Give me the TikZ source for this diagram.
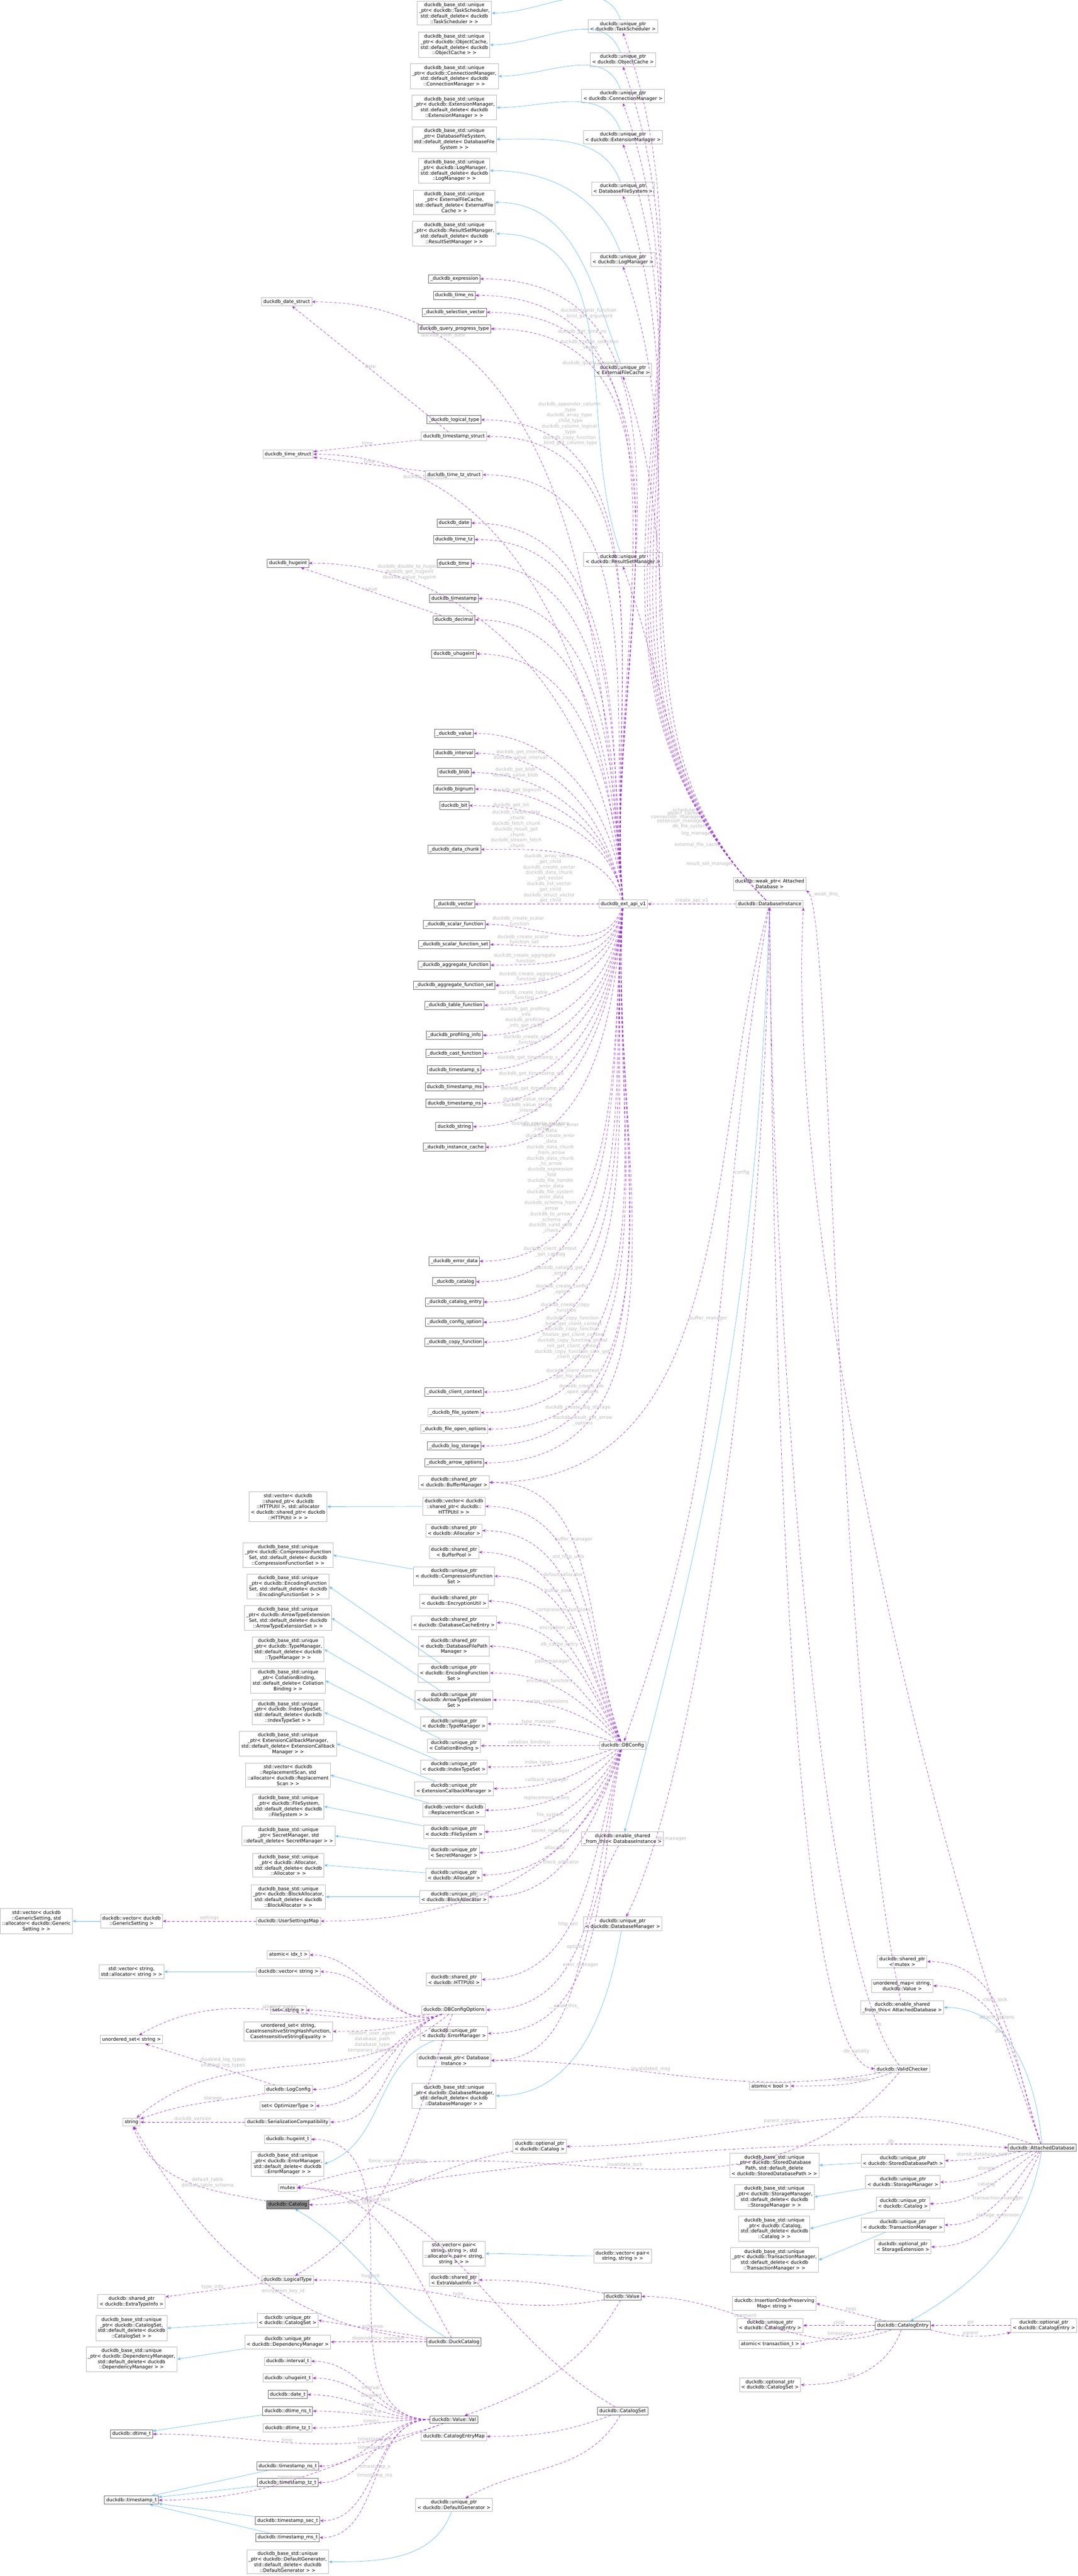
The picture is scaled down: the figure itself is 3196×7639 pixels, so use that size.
\documentclass[tikz,border=0pt]{standalone}
\usepackage{fontspec}
\setmainfont{DejaVu Sans}
\usetikzlibrary{arrows.meta}
\definecolor{edgepurple}{HTML}{9A32CD}
\definecolor{edgeblue}{HTML}{63B8FF}
\tikzset{
	cls/.style={draw=black!28, rectangle, inner sep=1.5pt, align=center, fill=white, font=\fontsize{4}{4.7}\selectfont},
	capi/.style={cls, draw=black!60},
	focus/.style={cls, draw=black!70, fill=black!45},
	mem/.style={edgepurple, line width=0.3pt, dash pattern=on 2.2pt off 1.6pt, -{Stealth[length=3pt,width=2.4pt]}},
	inh/.style={edgeblue, line width=0.3pt, -{Stealth[length=3pt,width=2.4pt]}},
	lbl/.style={font=\fontsize{4}{4.7}\selectfont, text=black!28, align=center, inner sep=0.6pt}
}
\begin{document}
\begin{tikzpicture}[x=0.01cm, y=-0.01cm]
\useasboundingbox (0,0) rectangle (3196,7639);

%% base classes of the instance members
\node[cls] (bsTask) at (1347,39) {duckdb\_base\_std::unique\\\_ptr< duckdb::TaskScheduler,\\ std::default\_delete< duckdb\\::TaskScheduler > >};
\node[cls] (bsObj) at (1347,133) {duckdb\_base\_std::unique\\\_ptr< duckdb::ObjectCache,\\ std::default\_delete< duckdb\\::ObjectCache > >};
\node[cls] (bsConn) at (1347,226) {duckdb\_base\_std::unique\\\_ptr< duckdb::ConnectionManager,\\ std::default\_delete< duckdb\\::ConnectionManager > >};
\node[cls] (bsExtm) at (1347,319) {duckdb\_base\_std::unique\\\_ptr< duckdb::ExtensionManager,\\ std::default\_delete< duckdb\\::ExtensionManager > >};
\node[cls] (bsDbfs) at (1347,413) {duckdb\_base\_std::unique\\\_ptr< DatabaseFileSystem,\\ std::default\_delete< DatabaseFile\\System > >};
\node[cls] (bsLogm) at (1347,506) {duckdb\_base\_std::unique\\\_ptr< duckdb::LogManager,\\ std::default\_delete< duckdb\\::LogManager > >};
\node[cls] (bsEfc) at (1347,600) {duckdb\_base\_std::unique\\\_ptr< ExternalFileCache,\\ std::default\_delete< ExternalFile\\Cache > >};
\node[cls] (bsRsm) at (1347,693) {duckdb\_base\_std::unique\\\_ptr< duckdb::ResultSetManager,\\ std::default\_delete< duckdb\\::ResultSetManager > >};

\node[cls] (upTask) at (1847,78) {duckdb::unique\_ptr\\< duckdb::TaskScheduler >};
\node[cls] (upObj) at (1847,177) {duckdb::unique\_ptr\\< duckdb::ObjectCache >};
\node[cls] (upConn) at (1847,285) {duckdb::unique\_ptr\\< duckdb::ConnectionManager >};
\node[cls] (upExtm) at (1847,407) {duckdb::unique\_ptr\\< duckdb::ExtensionManager >};
\node[cls] (upDbfs) at (1847,560) {duckdb::unique\_ptr\\< DatabaseFileSystem >};
\node[cls] (upLogm) at (1847,770) {duckdb::unique\_ptr\\< duckdb::LogManager >};
\node[cls] (upEfc) at (1847,1097) {duckdb::unique\_ptr\\< ExternalFileCache >};
\node[cls] (upRsm) at (1847,1659) {duckdb::unique\_ptr\\< duckdb::ResultSetManager >};

%% C API structs
\node[cls] (dateS) at (850,895) {duckdb\_date\_struct};
\node[capi] (expr) at (1347,827) {\_duckdb\_expression};
\node[capi] (timens) at (1347,876) {duckdb\_time\_ns};
\node[capi] (selvec) at (1347,926) {\_duckdb\_selection\_vector};
\node[capi] (qprog) at (1347,975) {duckdb\_query\_progress\_type};
\node[capi] (ltype) at (1346,1245) {\_duckdb\_logical\_type};
\node[cls] (tsS) at (1346,1294) {duckdb\_timestamp\_struct};
\node[cls] (timeS) at (854,1347) {duckdb\_time\_struct};
\node[cls] (ttzS) at (1346,1408) {duckdb\_time\_tz\_struct};
\node[capi] (hint) at (854,1670) {duckdb\_hugeint};
\node[capi] (ddate) at (1346,1551) {duckdb\_date};
\node[capi] (ttz) at (1346,1600) {duckdb\_time\_tz};
\node[capi] (dtime) at (1346,1671) {duckdb\_time};
\node[capi] (dts) at (1346,1775) {duckdb\_timestamp};
\node[capi] (ddec) at (1346,1838) {duckdb\_decimal};
\node[capi] (uhint) at (1346,1939) {duckdb\_uhugeint};
\node[capi] (dval) at (1346,2175) {\_duckdb\_value};
\node[capi] (interval) at (1347,2234) {duckdb\_interval};
\node[capi] (blob) at (1347,2291) {duckdb\_blob};
\node[capi] (bignum) at (1347,2340) {duckdb\_bignum};
\node[capi] (bit) at (1347,2389) {duckdb\_bit};
\node[capi] (dchunk) at (1347,2519) {\_duckdb\_data\_chunk};
\node[capi] (dvec) at (1347,2681) {\_duckdb\_vector};
\node[capi] (sfun) at (1347,2741) {\_duckdb\_scalar\_function};
\node[capi] (sfunset) at (1347,2801) {\_duckdb\_scalar\_function\_set};
\node[capi] (afun) at (1347,2862) {\_duckdb\_aggregate\_function};
\node[capi] (afunset) at (1347,2922) {\_duckdb\_aggregate\_function\_set};
\node[capi] (tfun) at (1347,2981) {\_duckdb\_table\_function};
\node[capi] (prof) at (1347,3070) {\_duckdb\_profiling\_info};
\node[capi] (cast) at (1347,3124) {\_duckdb\_cast\_function};
\node[capi] (tss) at (1347,3173) {duckdb\_timestamp\_s};
\node[capi] (tsms) at (1347,3223) {duckdb\_timestamp\_ms};
\node[capi] (tsns) at (1347,3272) {duckdb\_timestamp\_ns};
\node[capi] (dstr) at (1347,3341) {duckdb\_string};
\node[capi] (icache) at (1347,3402) {\_duckdb\_instance\_cache};
\node[capi] (err) at (1347,3740) {\_duckdb\_error\_data};
\node[capi] (dcat) at (1347,3801) {\_duckdb\_catalog};
\node[capi] (dcatent) at (1347,3861) {\_duckdb\_catalog\_entry};
\node[capi] (cfgopt) at (1347,3921) {\_duckdb\_config\_option};
\node[capi] (copyf) at (1347,3980) {\_duckdb\_copy\_function};
\node[capi] (cctx) at (1347,4128) {\_duckdb\_client\_context};
\node[cls] (dfs) at (1347,4189) {\_duckdb\_file\_system};
\node[cls] (fopen) at (1347,4238) {\_duckdb\_file\_open\_options};
\node[capi] (logst) at (1347,4288) {\_duckdb\_log\_storage};
\node[capi] (arrowopt) at (1347,4338) {\_duckdb\_arrow\_options};

%% instance
\node[cls] (api) at (1848,2681) {duckdb\_ext\_api\_v1};
\node[cls] (dbi) at (2282,2680) {duckdb::DatabaseInstance};
\node[cls] (wpAtt) at (2282,2621) {duckdb::weak\_ptr< Attached\\Database >};

%% config members
\node[cls] (spBuf) at (1346,4396) {duckdb::shared\_ptr\\< duckdb::BufferManager >};
\node[cls] (vHttp) at (1346,4467) {duckdb::vector< duckdb\\::shared\_ptr< duckdb::\\HTTPUtil > >};
\node[cls] (spAlloc) at (1346,4539) {duckdb::shared\_ptr\\< duckdb::Allocator >};
\node[cls] (spPool) at (1346,4603) {duckdb::shared\_ptr\\< BufferPool >};
\node[cls] (upComp) at (1346,4674) {duckdb::unique\_ptr\\< duckdb::CompressionFunction\\Set >};
\node[cls] (spEnc) at (1346,4748) {duckdb::shared\_ptr\\< duckdb::EncryptionUtil >};
\node[cls] (spCache) at (1346,4812) {duckdb::shared\_ptr\\< duckdb::DatabaseCacheEntry >};
\node[cls] (spPath) at (1346,4882) {duckdb::shared\_ptr\\< duckdb::DatabaseFilePath\\Manager >};
\node[cls] (upEncf) at (1346,4961) {duckdb::unique\_ptr\\< duckdb::EncodingFunction\\Set >};
\node[cls] (upArrow) at (1346,5041) {duckdb::unique\_ptr\\< duckdb::ArrowTypeExtension\\Set >};
\node[cls] (upType) at (1346,5112) {duckdb::unique\_ptr\\< duckdb::TypeManager >};
\node[cls] (upColl) at (1346,5177) {duckdb::unique\_ptr\\< CollationBinding >};
\node[cls] (upIdx) at (1346,5240) {duckdb::unique\_ptr\\< duckdb::IndexTypeSet >};
\node[cls] (upCb) at (1346,5304) {duckdb::unique\_ptr\\< ExtensionCallbackManager >};
\node[cls] (vRepl) at (1346,5368) {duckdb::vector< duckdb\\::ReplacementScan >};
\node[cls] (upFs) at (1346,5432) {duckdb::unique\_ptr\\< duckdb::FileSystem >};
\node[cls] (upSec) at (1346,5494) {duckdb::unique\_ptr\\< SecretManager >};
\node[cls] (upAlloc) at (1346,5560) {duckdb::unique\_ptr\\< duckdb::Allocator >};
\node[cls] (upBlk) at (1346,5625) {duckdb::unique\_ptr\\< duckdb::BlockAllocator >};
\node[cls] (spHttp) at (1346,5870) {duckdb::shared\_ptr\\< duckdb::HTTPUtil >};
\node[cls] (opts) at (1346,5960) {duckdb::DBConfigOptions};
\node[cls] (upErr) at (1346,6030) {duckdb::unique\_ptr\\< duckdb::ErrorManager >};
\node[cls] (wpDbi) at (1346,6110) {duckdb::weak\_ptr< Database\\Instance >};
\node[cls] (bsDbm) at (1346,6215) {duckdb\_base\_std::unique\\\_ptr< duckdb::DatabaseManager,\\ std::default\_delete< duckdb\\::DatabaseManager > >};

\node[cls] (dbcfg) at (1846,5176) {duckdb::DBConfig};
\node[cls] (esDbi) at (1846,5453) {duckdb::enable\_shared\\\_from\_this< DatabaseInstance >};
\node[cls] (upDbm) at (1846,5705) {duckdb::unique\_ptr\\< duckdb::DatabaseManager >};

\node[cls] (bsHttp) at (854,4468) {std::vector< duckdb\\::shared\_ptr< duckdb\\::HTTPUtil >, std::allocator\\< duckdb::shared\_ptr< duckdb\\::HTTPUtil > > >};
\node[cls] (bsComp) at (854,4612) {duckdb\_base\_std::unique\\\_ptr< duckdb::CompressionFunction\\Set, std::default\_delete< duckdb\\::CompressionFunctionSet > >};
\node[cls] (bsEnc) at (854,4705) {duckdb\_base\_std::unique\\\_ptr< duckdb::EncodingFunction\\Set, std::default\_delete< duckdb\\::EncodingFunctionSet > >};
\node[cls] (bsArrow) at (854,4798) {duckdb\_base\_std::unique\\\_ptr< duckdb::ArrowTypeExtension\\Set, std::default\_delete< duckdb\\::ArrowTypeExtensionSet > >};
\node[cls] (bsType) at (854,4891) {duckdb\_base\_std::unique\\\_ptr< duckdb::TypeManager,\\ std::default\_delete< duckdb\\::TypeManager > >};
\node[cls] (bsColl) at (854,4984) {duckdb\_base\_std::unique\\\_ptr< CollationBinding,\\ std::default\_delete< Collation\\Binding > >};
\node[cls] (bsIdx) at (854,5078) {duckdb\_base\_std::unique\\\_ptr< duckdb::IndexTypeSet,\\ std::default\_delete< duckdb\\::IndexTypeSet > >};
\node[cls] (bsCb) at (854,5171) {duckdb\_base\_std::unique\\\_ptr< ExtensionCallbackManager,\\ std::default\_delete< ExtensionCallback\\Manager > >};
\node[cls] (bsRepl) at (854,5264) {std::vector< duckdb\\::ReplacementScan, std\\::allocator< duckdb::Replacement\\Scan > >};
\node[cls] (bsFs) at (855,5357) {duckdb\_base\_std::unique\\\_ptr< duckdb::FileSystem,\\ std::default\_delete< duckdb\\::FileSystem > >};
\node[cls] (bsSec) at (855,5444) {duckdb\_base\_std::unique\\\_ptr< SecretManager, std\\::default\_delete< SecretManager > >};
\node[cls] (bsAlloc) at (855,5531) {duckdb\_base\_std::unique\\\_ptr< duckdb::Allocator,\\ std::default\_delete< duckdb\\::Allocator > >};
\node[cls] (bsBlk) at (855,5625) {duckdb\_base\_std::unique\\\_ptr< duckdb::BlockAllocator,\\ std::default\_delete< duckdb\\::BlockAllocator > >};

%% options
\node[cls] (usm) at (855,5697) {duckdb::UserSettingsMap};
\node[cls] (vecGs) at (390,5697) {duckdb::vector< duckdb\\::GenericSetting >};
\node[cls] (stdGs) at (108,5697) {std::vector< duckdb\\::GenericSetting, std\\::allocator< duckdb::Generic\\Setting > >};
\node[cls] (atomIdx) at (855,5797) {atomic< idx\_t >};
\node[cls] (vecStr) at (855,5847) {duckdb::vector< string >};
\node[cls] (stdVecStr) at (390,5847) {std::vector< string,\\ std::allocator< string > >};
\node[cls] (setStr) at (855,5961) {set< string >};
\node[cls] (usetCi) at (855,6024) {unordered\_set< string,\\ CaseInsensitiveStringHashFunction,\\ CaseInsensitiveStringEquality >};
\node[cls] (usetStr) at (390,6048) {unordered\_set< string >};
\node[cls] (logcfg) at (855,6196) {duckdb::LogConfig};
\node[cls] (setOpt) at (853,6245) {set< OptimizerType >};
\node[cls] (sercomp) at (853,6293) {duckdb::SerializationCompatibility};
\node[cls] (str) at (390,6293) {string};

%% catalog
\node[cls] (hugeT) at (853,6344) {duckdb::hugeint\_t};
\node[cls] (bsErr) at (853,6417) {duckdb\_base\_std::unique\\\_ptr< duckdb::ErrorManager,\\ std::default\_delete< duckdb\\::ErrorManager > >};
\node[cls] (mtx) at (853,6488) {mutex};
\node[focus] (cat) at (853,6538) {duckdb::Catalog};
\node[cls] (ltypeC) at (853,6761) {duckdb::LogicalType};
\node[cls] (extraT) at (390,6825) {duckdb::shared\_ptr\\< duckdb::ExtraTypeInfo >};
\node[cls] (upCs) at (853,6881) {duckdb::unique\_ptr\\< duckdb::CatalogSet >};
\node[cls] (bsCs) at (390,6904) {duckdb\_base\_std::unique\\\_ptr< duckdb::CatalogSet,\\ std::default\_delete< duckdb\\::CatalogSet > >};
\node[cls] (upDep) at (853,6945) {duckdb::unique\_ptr\\< duckdb::DependencyManager >};
\node[cls] (bsDep) at (390,6996) {duckdb\_base\_std::unique\\\_ptr< duckdb::DependencyManager,\\ std::default\_delete< duckdb\\::DependencyManager > >};
\node[cls] (intT) at (853,7002) {duckdb::interval\_t};
\node[cls] (uhT) at (853,7052) {duckdb::uhugeint\_t};
\node[capi] (dateT) at (853,7101) {duckdb::date\_t};
\node[capi] (dtnsT) at (853,7150) {duckdb::dtime\_ns\_t};
\node[cls] (dttzT) at (853,7200) {duckdb::dtime\_tz\_t};
\node[capi] (dtT) at (390,7218) {duckdb::dtime\_t};
\node[capi] (tsnsT) at (853,7313) {duckdb::timestamp\_ns\_t};
\node[capi] (tstzT) at (853,7362) {duckdb::timestamp\_tz\_t};
\node[capi] (tsT) at (390,7414) {duckdb::timestamp\_t};
\node[capi] (tssecT) at (853,7475) {duckdb::timestamp\_sec\_t};
\node[capi] (tsmsT) at (853,7525) {duckdb::timestamp\_ms\_t};
\node[cls] (bsDef) at (853,7597) {duckdb\_base\_std::unique\\\_ptr< duckdb::DefaultGenerator,\\ std::default\_delete< duckdb\\::DefaultGenerator > >};

\node[cls] (vecPairStd) at (1346,6683) {std::vector< pair<\\ string, string >, std\\::allocator< pair< string,\\ string > > >};
\node[cls] (spEvi) at (1346,6761) {duckdb::shared\_ptr\\< ExtraValueInfo >};
\node[capi] (duckCat) at (1346,6945) {duckdb::DuckCatalog};
\node[capi] (val) at (1346,7175) {duckdb::Value::Val};
\node[cls] (cem) at (1346,7225) {duckdb::CatalogEntryMap};
\node[cls] (upDef) at (1346,7428) {duckdb::unique\_ptr\\< duckdb::DefaultGenerator >};
\node[cls] (opCat) at (1600,6365) {duckdb::optional\_ptr\\< duckdb::Catalog >};
\node[cls] (vecPair) at (1846,6690) {duckdb::vector< pair<\\ string, string > >};
\node[capi] (value) at (1846,6810) {duckdb::Value};
\node[capi] (catSet) at (1846,7150) {duckdb::CatalogSet};

%% attached database
\node[cls] (spMtx) at (2675,5817) {duckdb::shared\_ptr\\< mutex >};
\node[cls] (umap) at (2675,5889) {unordered\_map< string,\\ duckdb::Value >};
\node[cls] (esAtt) at (2675,5953) {duckdb::enable\_shared\\\_from\_this< AttachedDatabase >};
\node[cls] (valid) at (2675,6135) {duckdb::ValidChecker};
\node[cls] (atomBool) at (2283,6186) {atomic< bool >};
\node[capi] (att) at (3090,6369) {duckdb::AttachedDatabase};
\node[cls] (upSdb) at (2677,6407) {duckdb::unique\_ptr\\< duckdb::StoredDatabasePath >};
\node[cls] (upSm) at (2677,6471) {duckdb::unique\_ptr\\< duckdb::StorageManager >};
\node[cls] (upCat) at (2677,6535) {duckdb::unique\_ptr\\< duckdb::Catalog >};
\node[cls] (upTm) at (2677,6598) {duckdb::unique\_ptr\\< duckdb::TransactionManager >};
\node[cls] (opSe) at (2677,6663) {duckdb::optional\_ptr\\< StorageExtension >};
\node[cls] (bsSdb) at (2296,6421) {duckdb\_base\_std::unique\\\_ptr< duckdb::StoredDatabase\\Path, std::default\_delete\\< duckdb::StoredDatabasePath > >};
\node[cls] (bsSm) at (2296,6515) {duckdb\_base\_std::unique\\\_ptr< duckdb::StorageManager,\\ std::default\_delete< duckdb\\::StorageManager > >};
\node[cls] (bsCatB) at (2296,6609) {duckdb\_base\_std::unique\\\_ptr< duckdb::Catalog,\\ std::default\_delete< duckdb\\::Catalog > >};
\node[cls] (bsTm) at (2296,6702) {duckdb\_base\_std::unique\\\_ptr< duckdb::TransactionManager,\\ std::default\_delete< duckdb\\::TransactionManager > >};
\node[cls] (iopm) at (2296,6831) {duckdb::InsertionOrderPreserving\\Map< string >};
\node[capi] (catEnt) at (2677,6896) {duckdb::CatalogEntry};
\node[cls] (upCe) at (2283,6896) {duckdb::unique\_ptr\\< duckdb::CatalogEntry >};
\node[cls] (atomTx) at (2283,6952) {atomic< transaction\_t >};
\node[cls] (opCs) at (2283,7072) {duckdb::optional\_ptr\\< duckdb::CatalogSet >};
\node[cls] (opCe) at (3095,6896) {duckdb::optional\_ptr\\< duckdb::CatalogEntry >};

%% C API function pointers
\foreach \t/\o/\l in {
	dateS/95/duckdb\_from\_date,
	expr/95/{duckdb\_scalar\_function\\\_bind\_get\_argument},
	timens/95/duckdb\_get\_time\_ns,
	selvec/95/{duckdb\_create\_selection\\\_vector},
	qprog/95/duckdb\_query\_progress,
	ltype/95/{duckdb\_appender\_column\\\_type\\duckdb\_array\_type\\\_child\_type\\duckdb\_column\_logical\\\_type\\duckdb\_copy\_function\\\_bind\_get\_column\_type\\...},
	tsS/95/{}, timeS/95/duckdb\_from\_time, ttzS/95/{},
	hint/95/{duckdb\_double\_to\_hugeint\\duckdb\_get\_hugeint\\duckdb\_value\_hugeint},
	ddate/95/{}, ttz/95/{}, dtime/95/{}, dts/95/{}, ddec/95/{}, uhint/95/{}, dval/95/{},
	interval/100/{duckdb\_get\_interval\\duckdb\_value\_interval},
	blob/100/{duckdb\_get\_blob\\duckdb\_value\_blob},
	bignum/100/duckdb\_get\_bignum,
	bit/100/duckdb\_get\_bit,
	dchunk/110/{duckdb\_create\_data\\\_chunk\\duckdb\_fetch\_chunk\\duckdb\_result\_get\\\_chunk\\duckdb\_stream\_fetch\\\_chunk},
	sfun/250/{duckdb\_create\_scalar\\\_function},
	sfunset/255/{duckdb\_create\_scalar\\\_function\_set},
	afun/260/{duckdb\_create\_aggregate\\\_function},
	afunset/260/{duckdb\_create\_aggregate\\\_function\_set},
	tfun/262/{duckdb\_create\_table\\\_function},
	prof/264/{duckdb\_get\_profiling\\\_info\\duckdb\_profiling\\\_info\_get\_child},
	cast/265/{duckdb\_create\_cast\\\_function},
	tss/265/duckdb\_get\_timestamp\_s,
	tsms/265/duckdb\_get\_timestamp\_ms,
	tsns/265/duckdb\_get\_timestamp\_ns,
	dstr/265/{duckdb\_value\_string\\duckdb\_value\_string\\\_internal},
	icache/265/{duckdb\_create\_instance\\\_cache},
	err/265/{duckdb\_appender\_error\\\_data\\duckdb\_create\_error\\\_data\\duckdb\_data\_chunk\\\_from\_arrow\\duckdb\_data\_chunk\\\_to\_arrow\\duckdb\_expression\\\_fold\\duckdb\_file\_handle\\\_error\_data\\duckdb\_file\_system\\\_error\_data\\duckdb\_schema\_from\\\_arrow\\duckdb\_to\_arrow\\\_schema\\duckdb\_valid\_utf8\\\_check\\...},
	dcat/265/{duckdb\_client\_context\\\_get\_catalog},
	dcatent/265/{duckdb\_catalog\_get\\\_entry},
	cfgopt/265/{duckdb\_create\_config\\\_option},
	copyf/265/{duckdb\_create\_copy\\\_function},
	cctx/266/{duckdb\_copy\_function\\\_bind\_get\_client\_context\\duckdb\_copy\_function\\\_finalize\_get\_client\_context\\duckdb\_copy\_function\_global\\\_init\_get\_client\_context\\duckdb\_copy\_function\_sink\_get\\\_client\_context},
	dfs/266/{duckdb\_client\_context\\\_get\_file\_system},
	fopen/266/{duckdb\_create\_file\\\_open\_options},
	logst/266/duckdb\_create\_log\_storage,
	arrowopt/266/{duckdb\_result\_get\_arrow\\\_options}}
	\draw[mem] (api) to[out=\o, in=0] node[lbl, pos=0.8, above] {\l} (\t.east);
\draw[mem] (api) -- node[lbl, pos=0.4, above] {duckdb\_array\_vector\\\_get\_child\\duckdb\_create\_vector\\duckdb\_data\_chunk\\\_get\_vector\\duckdb\_list\_vector\\\_get\_child\\duckdb\_struct\_vector\\\_get\_child} (dvec);
\draw[mem] (tsS) -- node[lbl, above] {date} (dateS);
\draw[mem] (tsS) -- node[lbl, above] {time} (timeS);
\draw[mem] (ttzS) -- node[lbl, above] {time} (timeS);
\draw[mem] (ddec) -- node[lbl, above] {value} (hint);

%% instance members
\draw[mem] (dbi) -- node[lbl, above] {create\_api\_v1} (api);
\foreach \t/\l in {upTask/scheduler, upObj/object\_cache, upConn/connection\_manager, upExtm/extension\_manager, upDbfs/db\_file\_system, upLogm/log\_manager, upEfc/external\_file\_cache, upRsm/result\_set\_manager}
	\draw[mem] (dbi) to[out=135, in=-70] node[lbl, pos=0.12, left] {\l} (\t.south);
\foreach \a/\b in {upTask/bsTask, upObj/bsObj, upConn/bsConn, upExtm/bsExtm, upDbfs/bsDbfs, upLogm/bsLogm, upEfc/bsEfc, upRsm/bsRsm}
	\draw[inh] (\a) to[out=110, in=0] (\b.east);
\draw[mem] (dbi) to[out=260, in=70] node[lbl, pos=0.3, right] {config} (dbcfg);
\draw[mem] (dbi) to[out=255, in=0] node[lbl, pos=0.55, right] {buffer\_manager} (spBuf.east);
\draw[inh] (dbi) to[out=268, in=75] (esDbi);
\draw[mem] (dbi) .. controls (2260,4000) and (2050,5300) .. node[lbl, pos=0.85, right] {db\_manager} (upDbm);
\draw[inh] (upDbm) to[out=260, in=0] (bsDbm.east);
\draw[mem] (esDbi) to[out=240, in=0] node[lbl, pos=0.6, above] {\_\_weak\_this\_} (wpDbi.east);

%% config members
\foreach \t/\o/\l in {spBuf/110/buffer\_manager, vHttp/110/old\_http\_utils, spAlloc/112/default\_allocator, spPool/114/buffer\_pool, upComp/116/compression\_functions, spEnc/118/encryption\_util, spCache/120/db\_cache\_entry, spPath/125/path\_manager, upEncf/130/encoding\_functions, upArrow/140/arrow\_extensions, upType/160/type\_manager, upColl/180/collation\_bindings, upIdx/200/index\_types, upCb/215/callback\_manager, vRepl/230/replacement\_scans, upFs/240/file\_system, upSec/245/secret\_manager, upAlloc/248/allocator, upBlk/250/block\_allocator, usm/252/user\_settings, spHttp/254/http\_util, opts/256/options, upErr/258/error\_manager}
	\draw[mem] (dbcfg) to[out=\o, in=0] node[lbl, pos=0.6, above] {\l} (\t.east);
\foreach \a/\b in {vHttp/bsHttp, upComp/bsComp, upEncf/bsEnc, upArrow/bsArrow, upType/bsType, upColl/bsColl, upIdx/bsIdx, upCb/bsCb, vRepl/bsRepl, upFs/bsFs, upSec/bsSec, upAlloc/bsAlloc, upBlk/bsBlk}
	\draw[inh] (\a) -- (\b.east);
\draw[inh] (upErr) to[out=200, in=20] (bsErr.east);

%% options members
\draw[mem] (usm) -- node[lbl, above] {settings} (vecGs);
\draw[inh] (vecGs) -- (stdGs);
\draw[inh] (vecStr) -- (stdVecStr);
\foreach \t in {atomIdx, vecStr, setStr, usetCi, logcfg, setOpt, sercomp}
	\draw[mem] (opts) to[out=200, in=0] (\t.east);
\draw[mem] (opts) to[out=190, in=30] node[lbl, pos=0.5, above] {allowed\_paths} (usetStr);
\draw[mem] (opts) to[out=220, in=40] node[lbl, pos=0.25, above] {custom\_user\_agent\\database\_path\\database\_type\\temporary\_directory} (str);
\draw[mem] (opts) to[out=250, in=30] node[lbl, pos=0.5, above] {force\_variant\_shredding} (ltypeC);
\draw[mem] (logcfg) -- node[lbl, pos=0.4, above] {disabled\_log\_types\\enabled\_log\_types} (usetStr);
\draw[mem] (logcfg) to[out=190, in=20] node[lbl, pos=0.4, above] {storage} (str);
\draw[mem] (sercomp) -- node[lbl, above] {duckdb\_version} (str);

%% catalog members
\draw[mem] (cat) to[out=170, in=-70] node[lbl, pos=0.35, above] {default\_table\\default\_table\_schema} (str);
\draw[mem] (cat) .. controls (1500,6400) and (2500,6330) .. node[lbl, pos=0.8, above] {db} (att.west);
\draw[mem] (opCat) to[out=190, in=0] node[lbl, pos=0.5, above] {ptr} (cat.east);
\draw[inh] (duckCat) to[out=150, in=-30] (cat);
\draw[mem] (duckCat) -- node[lbl, above] {schemas} (upCs.east);
\draw[mem] (duckCat) -- node[lbl, above] {dependency\_manager} (upDep.east);
\draw[mem] (duckCat) to[out=120, in=0] node[lbl, pos=0.7, above] {write\_lock} (mtx.east);
\draw[mem] (duckCat) to[out=175, in=-60] node[lbl, pos=0.4, above] {encryption\_key\_id} (str);
\draw[inh] (upCs) -- (bsCs.east);
\draw[inh] (upDep) -- (bsDep.east);
\draw[inh] (upDef) to[out=250, in=0] (bsDef.east);
\draw[mem] (ltypeC) -- node[lbl, above] {type\_info\_} (extraT);
\draw[inh] (vecPair) to[out=180, in=0] (vecPairStd.east);
\draw[mem] (value) to[out=190, in=0] node[lbl, pos=0.5, above] {type\_} (ltypeC.east);
\draw[mem] (value) to[out=170, in=0] (spEvi.east);
\draw[mem] (value) to[out=240, in=20] (val);
\draw[mem] (catSet) to[out=200, in=0] (cem.east);
\draw[mem] (catSet) to[out=240, in=30] (upDef);
\draw[mem] (catSet) to[out=150, in=0] node[lbl, pos=0.8, above] {catalog\_lock} (mtx.east);

%% value members
\foreach \t/\l in {hugeT/hugeint, intT/interval, uhT/uhugeint, dateT/date, dtnsT/time\_ns, dttzT/timetz, tsnsT/timestamp\_ns, tstzT/timestamp\_tz, tssecT/timestamp\_s, tsmsT/timestamp\_ms}
	\draw[mem] (val) to[out=180, in=0] node[lbl, pos=0.5, above] {\l} (\t.east);
\draw[mem] (val) to[out=200, in=0] node[lbl, pos=0.55, above] {time} (dtT.east);
\draw[mem] (val) to[out=200, in=0] node[lbl, pos=0.55, above] {timestamp} (tsT.east);
\draw[inh] (dtnsT) -- (dtT);
\foreach \a in {tsnsT, tstzT, tssecT, tsmsT}
	\draw[inh] (\a) -- (tsT);

%% attached database members
\draw[mem] (att) to[out=110, in=0] node[lbl, pos=0.6, above] {close\_lock} (spMtx.east);
\draw[mem] (att) to[out=108, in=0] node[lbl, pos=0.6, above] {attach\_options} (umap.east);
\draw[inh] (att) to[out=95, in=0] (esAtt.east);
\draw[mem] (esAtt) .. controls (2470,5000) and (2470,2700) .. node[lbl, pos=0.97, right] {\_\_weak\_this\_} (wpAtt.south east);
\draw[mem] (att) .. controls (2700,5300) and (2330,3600) .. node[lbl, pos=0.1, left] {db} (dbi.south east);
\draw[mem] (valid) .. controls (2400,5800) and (2282,3600) .. node[lbl, pos=0.08, above] {db} (dbi.south);
\draw[mem] (dbi.south) .. controls (2290,3600) and (2320,6100) .. node[lbl, pos=0.93, above] {db\_validity} (valid.west);
\draw[mem] (valid) to[out=200, in=0] node[lbl, pos=0.4, above] {is\_invalidated} (atomBool.east);
\draw[mem] (valid) to[out=190, in=0] node[lbl, pos=0.6, above] {invalidated\_msg} (wpDbi.east);
\draw[mem] (valid) to[out=230, in=20] node[lbl, pos=0.5, above] {invalidate\_lock} (mtx.east);
\draw[mem] (att) to[out=160, in=0] node[lbl, pos=0.55, above] {parent\_catalog} (opCat.east);
\draw[mem] (att) to[out=190, in=0] node[lbl, pos=0.5, above] {stored\_database\_path} (upSdb.east);
\draw[mem] (att) to[out=200, in=0] node[lbl, pos=0.5, above] {storage} (upSm.east);
\draw[mem] (att) to[out=215, in=0] node[lbl, pos=0.5, above] {catalog} (upCat.east);
\draw[mem] (att) to[out=230, in=0] node[lbl, pos=0.5, above] {transaction\_manager} (upTm.east);
\draw[mem] (att) to[out=245, in=0] node[lbl, pos=0.5, above] {storage\_extension} (opSe.east);
\draw[inh] (att) to[out=260, in=30] (catEnt);
\foreach \a/\b in {upSdb/bsSdb, upSm/bsSm, upCat/bsCatB, upTm/bsTm}
	\draw[inh] (\a) -- (\b.east);
\draw[mem] (catEnt) -- node[lbl, above] {tags} (iopm.east);
\draw[mem] (catEnt) -- node[lbl, above] {child} (upCe.east);
\draw[mem] (catEnt) -- node[lbl, above] {timestamp} (atomTx.east);
\draw[mem] (catEnt) to[out=200, in=0] node[lbl, pos=0.6, above] {comment} (value.east);
\draw[mem] (catEnt) to[out=250, in=0] node[lbl, pos=0.6, above] {set} (opCs.east);
\draw[mem] (opCe) -- node[lbl, above] {ptr} (catEnt);
\draw[mem] (catEnt.south east) to[out=-15, in=190] node[lbl, pos=0.5, above] {parent} (opCe.south west);

\end{tikzpicture}
\end{document}
